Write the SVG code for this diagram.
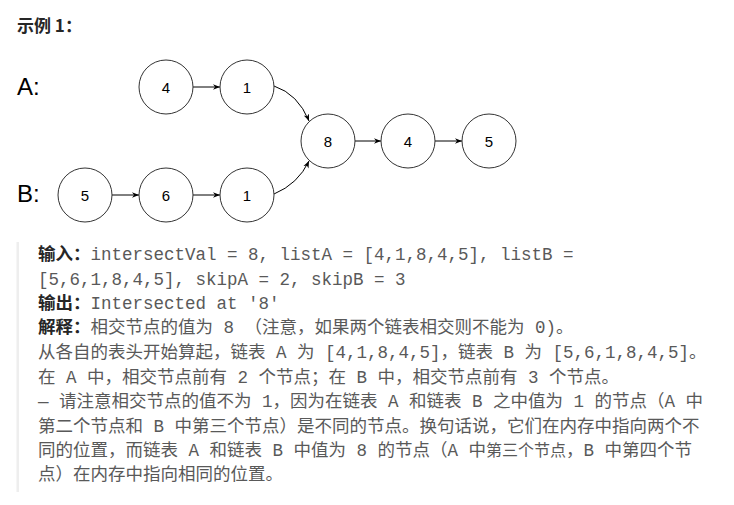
<svg xmlns="http://www.w3.org/2000/svg" width="734" height="505" viewBox="0 0 734 505">
<style>
.node circle{fill:#fff;stroke:#333;stroke-width:1}
.node text{font-family:"Liberation Sans",Arial,sans-serif;font-size:15px;fill:#000;text-anchor:middle;dominant-baseline:central}
.lbl{font-family:"Liberation Sans",Arial,sans-serif;font-size:24px;fill:#000}
.edge{fill:none;stroke:#000;stroke-width:1;marker-end:url(#ah)}
.body{font-family:"Liberation Mono","Noto Sans CJK SC",monospace;font-size:17.5px;fill:#595959}
.b{font-family:"Noto Sans CJK SC","Liberation Sans",sans-serif;font-weight:bold;fill:#262626}
</style>
<defs>
<marker id="ah" viewBox="0 0 10 10" refX="10" refY="5" markerWidth="7" markerHeight="7" orient="auto" markerUnits="userSpaceOnUse">
<path d="M0,1 L10,5 L0,9 L3,5 Z" fill="#000"/>
</marker>
</defs>
<rect width="734" height="505" fill="#fff"/>
<text x="17" y="32" font-family="'Noto Sans CJK SC','Liberation Sans',sans-serif" font-weight="bold" font-size="17" fill="#262626">示例 1：</text>
<text class="lbl" x="17" y="95">A:</text>
<text class="lbl" x="17" y="202">B:</text>
<g id="connectors">
<line class="edge" x1="193" y1="87" x2="220" y2="87"/>
<line class="edge" x1="112" y1="195" x2="139" y2="195"/>
<line class="edge" x1="193" y1="195" x2="220" y2="195"/>
<line class="edge" x1="355" y1="141" x2="381" y2="141"/>
<line class="edge" x1="435" y1="141" x2="462" y2="141"/>
<path class="edge" d="M274,86 Q298,94 309,121"/>
<path class="edge" d="M274,194 Q298,184 309,161"/>
</g>
<g id="a4" class="node"><circle cx="166" cy="87" r="27"/><text x="166" y="87">4</text></g>
<g id="a1" class="node"><circle cx="247" cy="87" r="27"/><text x="247" y="87">1</text></g>
<g id="b5" class="node"><circle cx="85" cy="195" r="27"/><text x="85" y="195">5</text></g>
<g id="b6" class="node"><circle cx="166" cy="195" r="27"/><text x="166" y="195">6</text></g>
<g id="b1" class="node"><circle cx="247" cy="195" r="27"/><text x="247" y="195">1</text></g>
<g id="c8" class="node"><circle cx="328" cy="141" r="27"/><text x="328" y="141">8</text></g>
<g id="c4" class="node"><circle cx="408" cy="141" r="27"/><text x="408" y="141">4</text></g>
<g id="c5" class="node"><circle cx="489" cy="141" r="27"/><text x="489" y="141">5</text></g>
<rect x="16.5" y="242" width="2.5" height="250" fill="#eeeeee"/>
<g class="body">
<text x="38" y="260"><tspan class="b">输入：</tspan>intersectVal = 8, listA = [4,1,8,4,5], listB =</text>
<text x="38" y="285">[5,6,1,8,4,5], skipA = 2, skipB = 3</text>
<text x="38" y="309"><tspan class="b">输出：</tspan>Intersected at '8'</text>
<text x="38" y="333"><tspan class="b">解释：</tspan>相交节点的值为 8 （注意，如果两个链表相交则不能为 0)。</text>
<text x="38" y="358">从各自的表头开始算起，链表 A 为 [4,1,8,4,5]，链表 B 为 [5,6,1,8,4,5]。</text>
<text x="38" y="383">在 A 中，相交节点前有 2 个节点；在 B 中，相交节点前有 3 个节点。</text>
<text x="38" y="407">— 请注意相交节点的值不为 1，因为在链表 A 和链表 B 之中值为 1 的节点（A 中</text>
<text x="38" y="432">第二个节点和 B 中第三个节点）是不同的节点。换句话说，它们在内存中指向两个不</text>
<text x="38" y="456">同的位置，而链表 A 和链表 B 中值为 8 的节点（A 中<tspan font-size="16">第三个节点</tspan>，B 中第四个节</text>
<text x="38" y="480">点）在内存中指向相同的位置。</text>
</g>
</svg>
